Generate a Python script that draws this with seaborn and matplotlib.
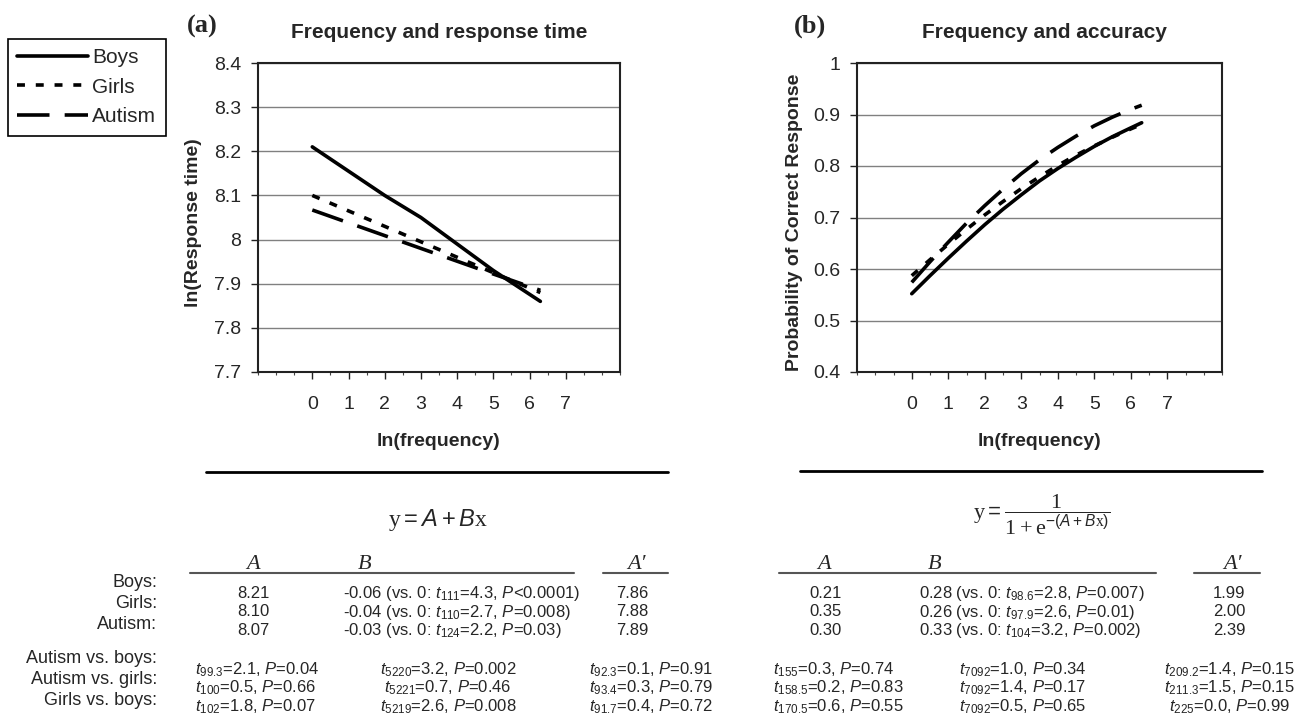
import matplotlib.pyplot as plt
from matplotlib.lines import Line2D
import pandas as pd
import seaborn as sns

# values
groups = ['Boys', 'Girls', 'Autism']

rt_x = [0, 1, 2, 3, 4, 5, 6.3]
rt_boys = [8.21, 8.155, 8.10, 8.05, 7.99, 7.93, 7.86]
rt_girls = [8.10, 8.065, 8.03, 7.995, 7.96, 7.925, 7.88]
rt_autism = [8.067, 8.038, 8.009, 7.98, 7.951, 7.922, 7.885]

acc_x = [0, 0.5, 1, 1.5, 2, 2.5, 3, 3.5, 4, 4.5, 5, 5.5, 6, 6.3]
acc_boys = [0.552, 0.587, 0.621, 0.654, 0.686, 0.716, 0.744, 0.771, 0.795, 0.817, 0.838, 0.857, 0.874, 0.884]
acc_girls = [0.587, 0.618, 0.648, 0.677, 0.705, 0.731, 0.756, 0.779, 0.801, 0.821, 0.839, 0.856, 0.872, 0.881]
acc_autism = [0.574, 0.614, 0.652, 0.689, 0.723, 0.755, 0.785, 0.812, 0.836, 0.858, 0.878, 0.895, 0.910, 0.918]

x_ticks = [0, 1, 2, 3, 4, 5, 6, 7]
rt_ticks = [7.7, 7.8, 7.9, 8.0, 8.1, 8.2, 8.3, 8.4]
rt_ticklabels = ['7.7', '7.8', '7.9', '8', '8.1', '8.2', '8.3', '8.4']
acc_ticks = [0.4, 0.5, 0.6, 0.7, 0.8, 0.9, 1.0]
acc_ticklabels = ['0.4', '0.5', '0.6', '0.7', '0.8', '0.9', '1']

# table under the plots
row_labels = ['Boys:', 'Girls:', 'Autism:']
cmp_labels = ['Autism vs. boys:', 'Autism vs. girls:', 'Girls vs. boys:']

lin_A = ['8.21', '8.10', '8.07']
lin_B = [r'-0.06 (vs. 0: $t_{111}$=4.3, $P$<0.0001)',
         r'-0.04 (vs. 0: $t_{110}$=2.7, $P$=0.008)',
         r'-0.03 (vs. 0: $t_{124}$=2.2, $P$=0.03)']
lin_A2 = ['7.86', '7.88', '7.89']
lin_cmp_A = [r'$t_{99.3}$=2.1, $P$=0.04', r'$t_{100}$=0.5, $P$=0.66', r'$t_{102}$=1.8, $P$=0.07']
lin_cmp_B = [r'$t_{5220}$=3.2, $P$=0.002', r'$t_{5221}$=0.7, $P$=0.46', r'$t_{5219}$=2.6, $P$=0.008']
lin_cmp_A2 = [r'$t_{92.3}$=0.1, $P$=0.91', r'$t_{93.4}$=0.3, $P$=0.79', r'$t_{91.7}$=0.4, $P$=0.72']

log_A = ['0.21', '0.35', '0.30']
log_B = [r'0.28 (vs. 0: $t_{98.6}$=2.8, $P$=0.007)',
         r'0.26 (vs. 0: $t_{97.9}$=2.6, $P$=0.01)',
         r'0.33 (vs. 0: $t_{104}$=3.2, $P$=0.002)']
log_A2 = ['1.99', '2.00', '2.39']
log_cmp_A = [r'$t_{155}$=0.3, $P$=0.74', r'$t_{158.5}$=0.2, $P$=0.83', r'$t_{170.5}$=0.6, $P$=0.55']
log_cmp_B = [r'$t_{7092}$=1.0, $P$=0.34', r'$t_{7092}$=1.4, $P$=0.17', r'$t_{7092}$=0.5, $P$=0.65']
log_cmp_A2 = [r'$t_{209.2}$=1.4, $P$=0.15', r'$t_{211.3}$=1.5, $P$=0.15', r'$t_{225}$=0.0, $P$=0.99']

# long-form frames for seaborn
df_rt = pd.DataFrame({
    'lnf': rt_x * 3,
    'y': rt_boys + rt_girls + rt_autism,
    'group': [g for g in groups for _ in rt_x]})
df_acc = pd.DataFrame({
    'lnf': acc_x * 3,
    'y': acc_boys + acc_girls + acc_autism,
    'group': [g for g in groups for _ in acc_x]})

sns.set_style('white')
plt.rcParams['font.family'] = ['Liberation Sans', 'DejaVu Sans']
plt.rcParams['mathtext.fontset'] = 'custom'
plt.rcParams['mathtext.rm'] = 'Liberation Sans'
plt.rcParams['mathtext.it'] = 'Liberation Sans:italic'
plt.rcParams['mathtext.bf'] = 'Liberation Sans:bold'
plt.rcParams['mathtext.sf'] = 'Liberation Serif'

W, H = 1308, 719
fig = plt.figure(figsize=(W / 100, H / 100), dpi=100)

def put(x, y, s, **kw):
    fig.text(x / W, 1 - y / H, s, **kw)

def hline(x0, x1, y, lw=2, color='black'):
    fig.add_artist(Line2D([x0 / W, x1 / W], [1 - y / H, 1 - y / H], lw=lw, color=color))

dash_map = {'Boys': '', 'Girls': (2.2, 3.0), 'Autism': (9, 4.2)}

ax_a = fig.add_axes([258 / W, 1 - 372 / H, 362 / W, 309 / H])
ax_b = fig.add_axes([857 / W, 1 - 372 / H, 365 / W, 309 / H])

for ax, df, ticks, ticklabels, ylab, ylab_x in [
        (ax_a, df_rt, rt_ticks, rt_ticklabels, 'ln(Response time)', -0.177),
        (ax_b, df_acc, acc_ticks, acc_ticklabels, 'Probability of Correct Response', -0.170)]:
    sns.lineplot(data=df, x='lnf', y='y', hue='group', style='group',
                 palette=['black'] * 3, dashes=dash_map, lw=2.6,
                 errorbar=None, legend=False, ax=ax)
    ax.set_xlim(-1.5, 8.5)
    ax.set_ylim(ticks[0], ticks[-1])
    ax.set_yticks(ticks)
    ax.set_yticklabels(ticklabels)
    ax.set_xticks(x_ticks)
    ax.set_xticklabels([str(t) for t in x_ticks])
    ax.set_xticks([-1.5 + 0.5 * i for i in range(21)], minor=True)
    ax.tick_params(axis='y', direction='out', length=5, width=1, pad=7,
                   labelsize=14, left=True, color='#222222')
    ax.tick_params(axis='x', which='major', direction='out', length=5, width=1,
                   pad=12, labelsize=14, bottom=True, color='#222222')
    ax.tick_params(axis='x', which='minor', direction='out', length=2.5,
                   width=0.8, bottom=True, color='#444444')
    ax.yaxis.grid(True, color='#808080', lw=1)
    ax.xaxis.grid(False)
    ax.set_axisbelow(True)
    for sp in ax.spines.values():
        sp.set_visible(True)
        sp.set_color('#222222')
        sp.set_linewidth(1.5)
    ax.set_xlabel('ln(frequency)', fontsize=14, fontweight='bold')
    ax.xaxis.label.set_va('center')
    ax.xaxis.set_label_coords(0.5, -0.225)
    ax.set_ylabel(ylab, fontsize=14, fontweight='bold')
    ax.yaxis.label.set_va('center')
    ax.yaxis.set_label_coords(ylab_x, 0.483)

put(439, 32, 'Frequency and response time', fontsize=15, fontweight='bold', ha='center', va='center')
put(1044, 32, 'Frequency and accuracy', fontsize=15, fontweight='bold', ha='center', va='center')
put(202, 26, '(a)', fontsize=19, fontweight='bold', family='Liberation Serif', ha='center', va='center')
put(810, 26, '(b)', fontsize=19, fontweight='bold', family='Liberation Serif', ha='center', va='center')

leg = fig.legend(handles=ax_a.get_lines()[:3], labels=groups, loc='upper left',
                 bbox_to_anchor=(8 / W, 1 - 39 / H), bbox_transform=fig.transFigure,
                 borderaxespad=0, fontsize=15, frameon=True, fancybox=False,
                 edgecolor='black', framealpha=1, handlelength=3.4,
                 handletextpad=0.2, labelspacing=0.5, borderpad=0.45)
leg.get_frame().set_linewidth(1.2)

# rules and formulas
hline(206, 668, 472)
hline(800, 1262, 471)
put(438, 520, r'$\mathsf{y} = A + B\mathsf{x}$', fontsize=17, ha='center', va='center')
put(1042, 515, r'$\mathsf{y} = \dfrac{\mathsf{1}}{\mathsf{1+e}^{-(A+B\mathsf{x})}}$',
    fontsize=16, ha='center', va='center')

# column headers
hdr = dict(fontsize=16, family=['Liberation Serif', 'DejaVu Serif'], style='italic',
           ha='center', va='baseline')
for x, s in [(253, 'A'), (365, 'B'), (636, 'A\u2032'), (824, 'A'), (935, 'B'), (1232, 'A\u2032')]:
    put(x, 569, s, **hdr)
for x0, x1 in [(190, 574), (603, 668), (779, 1156), (1194, 1260)]:
    hline(x0, x1, 573, lw=1.5, color='#555555')

# row labels
for i, s in enumerate(row_labels):
    put(157, 587 + 21 * i, s, fontsize=13, ha='right', va='baseline')
for i, s in enumerate(cmp_labels):
    put(157, 663 + 21 * i, s, fontsize=13, ha='right', va='baseline')

cell = dict(fontsize=12, va='baseline')
for i in range(3):
    yv = 598 + 18.5 * i
    yc = 674 + 18.5 * i
    put(253, yv, lin_A[i], ha='center', **cell)
    put(343, yv, lin_B[i], ha='left', **cell)
    put(632, yv, lin_A2[i], ha='center', **cell)
    put(826, yv, log_A[i], ha='center', **cell)
    put(919, yv, log_B[i], ha='left', **cell)
    put(1229, yv, log_A2[i], ha='center', **cell)

    put(195, yc, lin_cmp_A[i], ha='left', **cell)
    put(448, yc, lin_cmp_B[i], ha='center', **cell)
    put(589, yc, lin_cmp_A2[i], ha='left', **cell)
    put(773, yc, log_cmp_A[i], ha='left', **cell)
    put(1023, yc, log_cmp_B[i], ha='center', **cell)
    put(1229, yc, log_cmp_A2[i], ha='center', **cell)

fig.savefig('out.png', dpi=100)
